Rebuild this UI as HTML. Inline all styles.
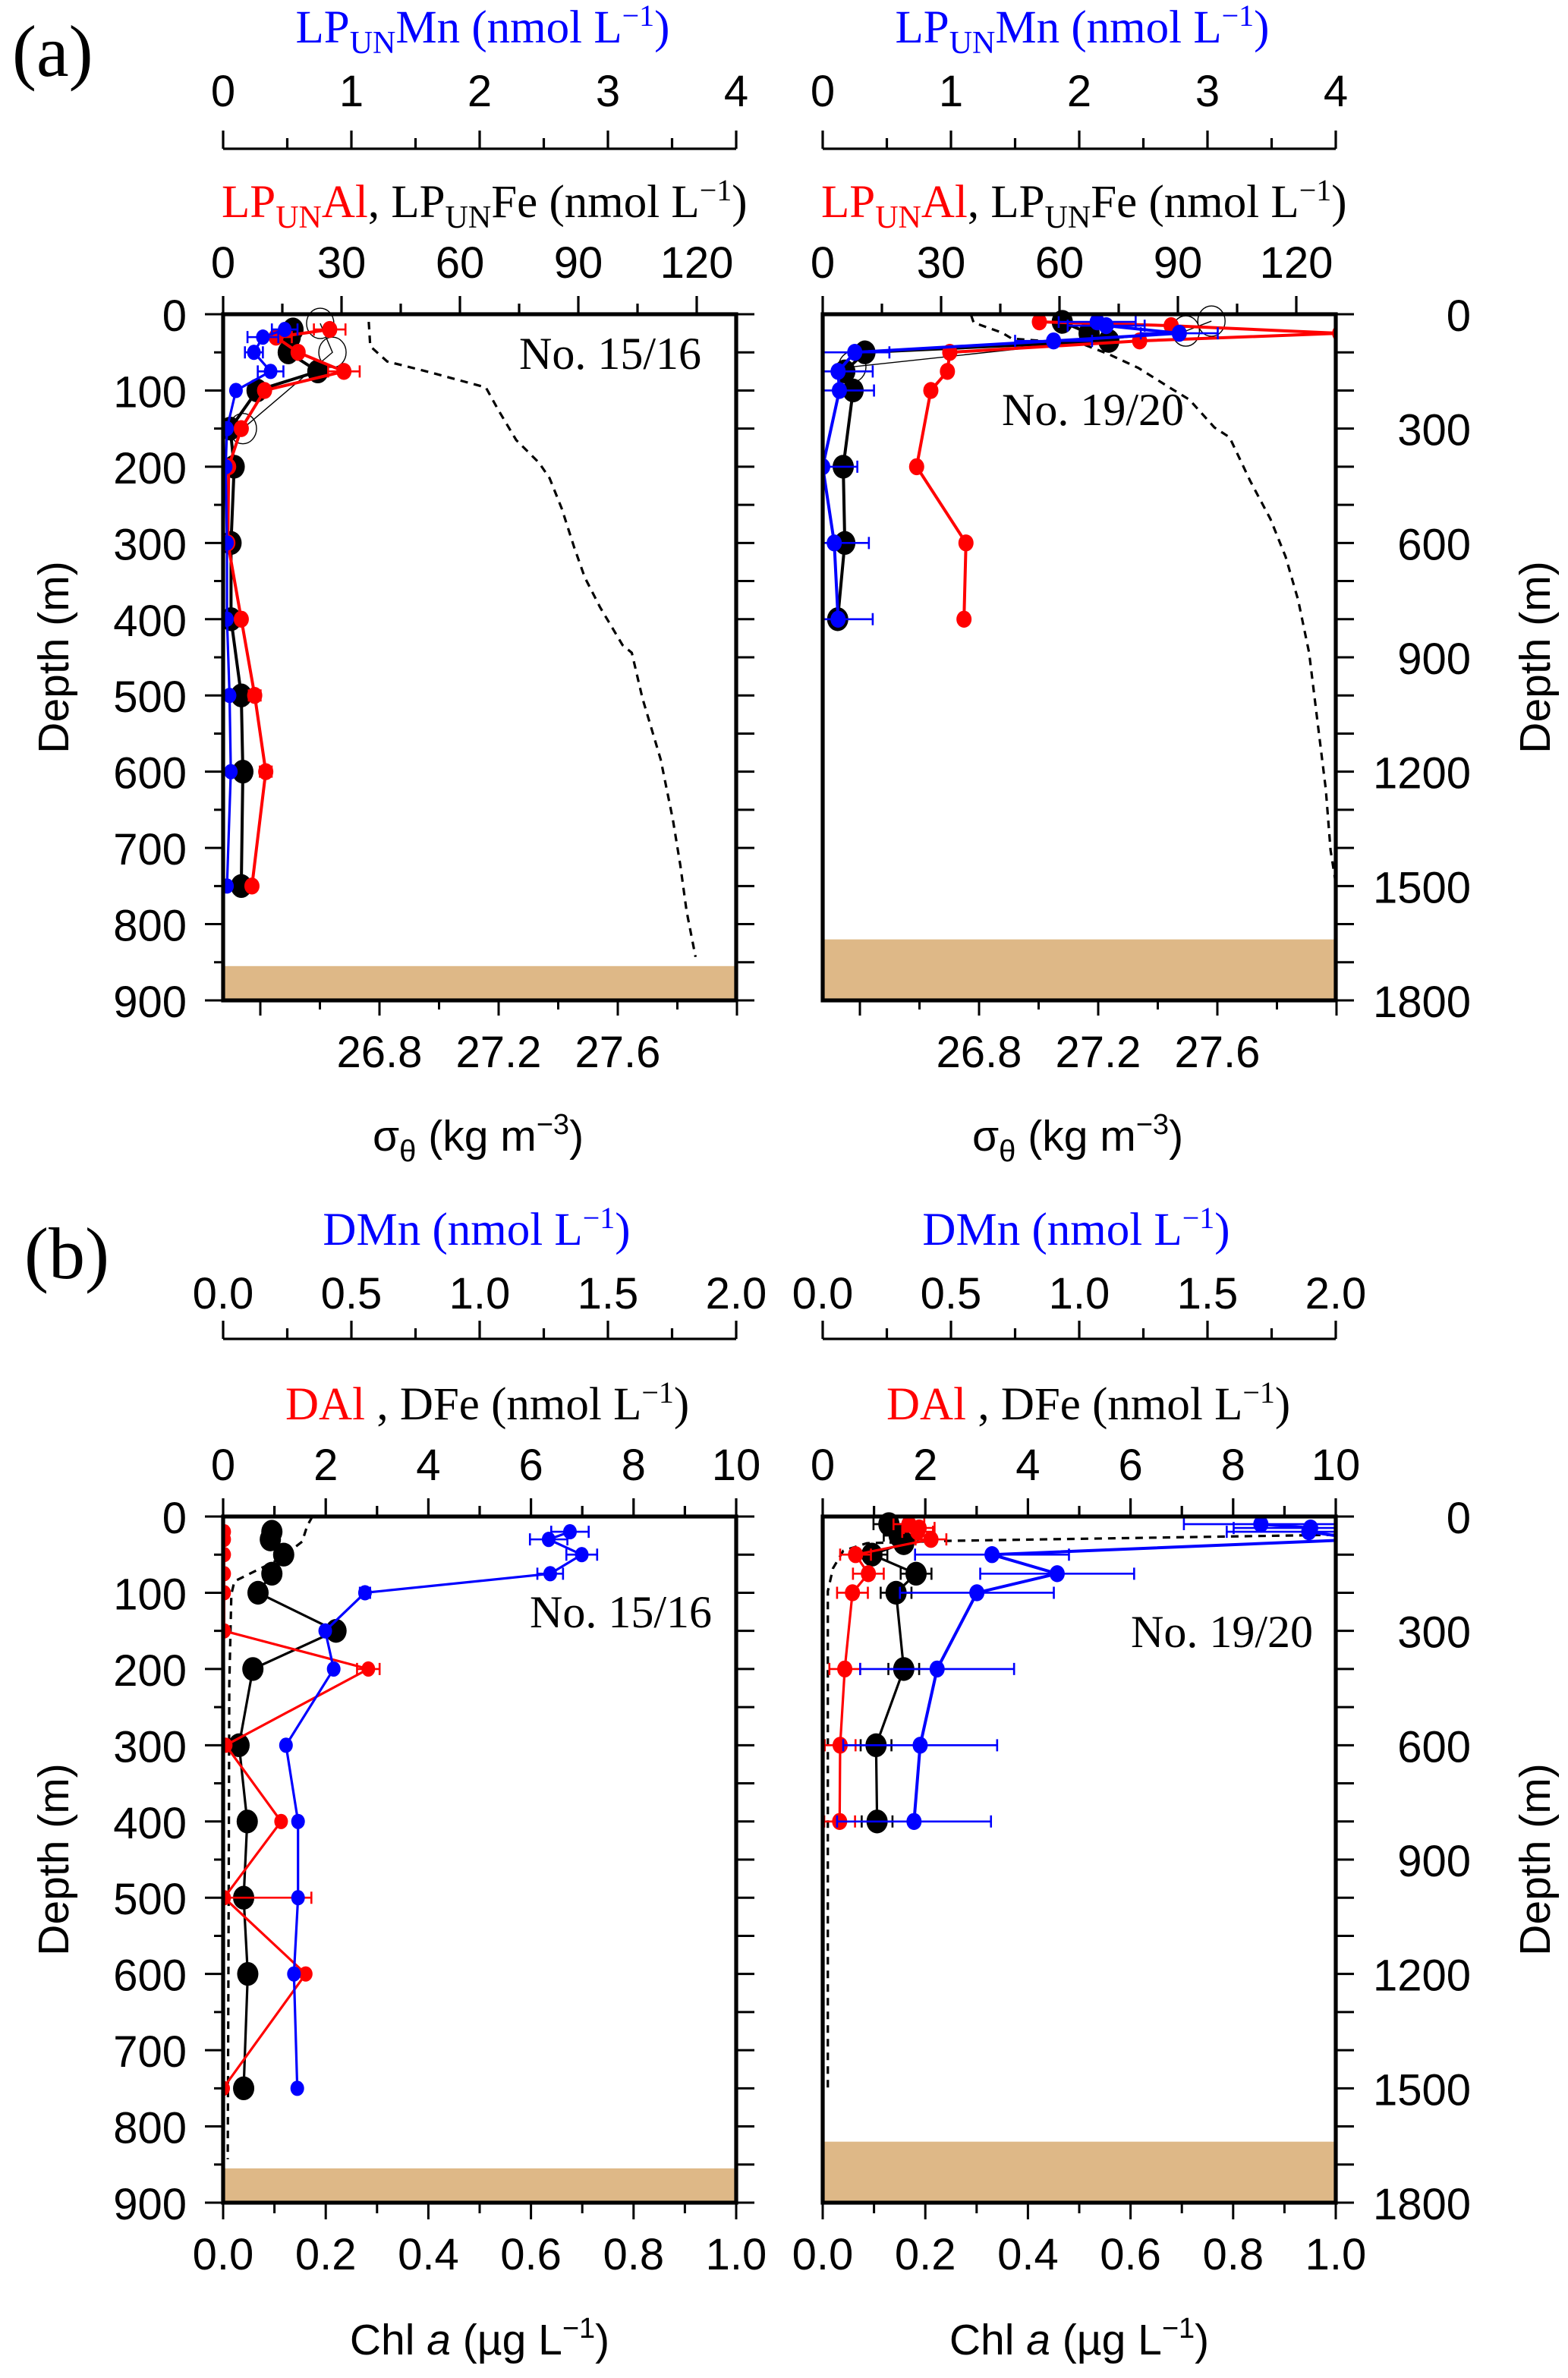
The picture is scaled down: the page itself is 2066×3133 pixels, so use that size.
<!DOCTYPE html>
<html><head><meta charset="utf-8"><style>
html,body{margin:0;padding:0;background:#fff;}
svg{display:block;}
.tk{font-family:"Liberation Sans",sans-serif;font-size:29px;}
.sf{font-family:"Liberation Serif",serif;font-size:30.5px;}
.ss{font-family:"Liberation Sans",sans-serif;font-size:28.5px;}
.st{font-family:"Liberation Serif",serif;font-size:30px;}
</style></head><body>
<svg id="chart" xmlns="http://www.w3.org/2000/svg" width="2066" height="3133" viewBox="0 0 1033 1566.5">
<rect x="0" y="0" width="1033" height="1566.5" fill="#fff"/>
<text x="8" y="50" style="font-family:'Liberation Serif',serif;font-size:48px">(a)</text>
<text x="16" y="842" style="font-family:'Liberation Serif',serif;font-size:48px">(b)</text>

<text class="sf" x="318" y="28" text-anchor="middle" fill="#0000ff">LP<tspan font-size="21" dy="7">UN</tspan><tspan dy="-7">Mn (nmol L</tspan><tspan font-size="20" dy="-11">−1</tspan><tspan dy="11">)</tspan></text>
<text class="sf" x="713" y="28" text-anchor="middle" fill="#0000ff">LP<tspan font-size="21" dy="7">UN</tspan><tspan dy="-7">Mn (nmol L</tspan><tspan font-size="20" dy="-11">−1</tspan><tspan dy="11">)</tspan></text>
<text class="sf" x="146" y="143"><tspan fill="#ff0000">LP</tspan><tspan fill="#ff0000" font-size="21" dy="7">UN</tspan><tspan fill="#ff0000" dy="-7">Al</tspan>, LP<tspan font-size="21" dy="7">UN</tspan><tspan dy="-7">Fe (nmol L</tspan><tspan font-size="20" dy="-11">−1</tspan><tspan dy="11">)</tspan></text>
<text class="sf" x="541" y="143"><tspan fill="#ff0000">LP</tspan><tspan fill="#ff0000" font-size="21" dy="7">UN</tspan><tspan fill="#ff0000" dy="-7">Al</tspan>, LP<tspan font-size="21" dy="7">UN</tspan><tspan dy="-7">Fe (nmol L</tspan><tspan font-size="20" dy="-11">−1</tspan><tspan dy="11">)</tspan></text>
<text class="ss" x="315" y="758" text-anchor="middle">σ<tspan font-size="20" dy="7">θ</tspan><tspan dy="-7"> (kg m</tspan><tspan font-size="19" dy="-11">−3</tspan><tspan dy="11">)</tspan></text>
<text class="ss" x="710" y="758" text-anchor="middle">σ<tspan font-size="20" dy="7">θ</tspan><tspan dy="-7"> (kg m</tspan><tspan font-size="19" dy="-11">−3</tspan><tspan dy="11">)</tspan></text>

<text class="sf" x="314" y="820" text-anchor="middle" fill="#0000ff">DMn (nmol L<tspan font-size="20" dy="-11">−1</tspan><tspan dy="11">)</tspan></text>
<text class="sf" x="709" y="820" text-anchor="middle" fill="#0000ff">DMn (nmol L<tspan font-size="20" dy="-11">−1</tspan><tspan dy="11">)</tspan></text>
<text class="sf" x="188" y="935"><tspan fill="#ff0000">DAl</tspan> , DFe (nmol L<tspan font-size="20" dy="-11">−1</tspan><tspan dy="11">)</tspan></text>
<text class="sf" x="584" y="935"><tspan fill="#ff0000">DAl</tspan> , DFe (nmol L<tspan font-size="20" dy="-11">−1</tspan><tspan dy="11">)</tspan></text>
<text class="ss" x="316" y="1551" text-anchor="middle">Chl <tspan font-style="italic">a</tspan> (µg L<tspan font-size="19" dy="-11">−1</tspan><tspan dy="11">)</tspan></text>
<text class="ss" x="711" y="1551" text-anchor="middle">Chl <tspan font-style="italic">a</tspan> (µg L<tspan font-size="19" dy="-11">−1</tspan><tspan dy="11">)</tspan></text>

<text class="ss" transform="translate(45,433) rotate(-90)" text-anchor="middle">Depth (m)</text>
<text class="ss" transform="translate(1021,433) rotate(-90)" text-anchor="middle">Depth (m)</text>
<text class="ss" transform="translate(45,1225) rotate(-90)" text-anchor="middle">Depth (m)</text>
<text class="ss" transform="translate(1021,1225) rotate(-90)" text-anchor="middle">Depth (m)</text>

<text class="st" x="462" y="243" text-anchor="end">No. 15/16</text>
<text class="st" x="780" y="280" text-anchor="end">No. 19/20</text>
<text class="st" x="469" y="1072" text-anchor="end">No. 15/16</text>
<text class="st" x="865" y="1085" text-anchor="end">No. 19/20</text>
<g id="plots"></g>
</svg>
<script>
// ---------- Panel (a) left : station 15/16 ----------
const aL_depth = [20,30,50,75,100,150,200,300,400,500,600,750];
const aL_fe = [17.7,17,16.5,24,8.6,1.8,2.8,2,2,4.6,5,4.6];
const aL_al = [27,13.4,19,30.6,10.5,4.6,1.4,1.2,4.6,8,10.8,7.3];
const aL_al_err = [4,4,0,4,0,0,0,0,0,1.5,1.5,0];
const aL_mn = [0.48,0.31,0.24,0.37,0.1,0.03,0.02,0.03,0.03,0.05,0.06,0.03];
const aL_mn_err = [0.1,0.12,0.07,0.1,0,0,0,0,0,0,0,0];
const aL_open_depth = [12,50,150];
const aL_open = [24.6,27.7,5];
const aL_sig_depth = [10,42,62,76,96,125,165,195,215,255,305,345,384,434,444,504,584,663,723,783,843];
const aL_sig = [26.764,26.769,26.826,26.968,27.157,27.198,27.259,27.336,27.371,27.412,27.453,27.489,27.54,27.616,27.647,27.683,27.744,27.785,27.81,27.831,27.861];
// ---------- Panel (a) right : station 19/20 ----------
const aR_fe_depth = [10,25,35,50,75,100,200,300,400];
const aR_fe = [60.7,67.5,72.5,10.7,5.6,7.7,5.2,5.6,3.8];
const aR_al_depth = [10,15,25,35,50,75,100,200,300,400];
const aR_al = [54.9,88.3,131,80.3,32.2,31.6,27.4,23.8,36.3,35.8];
const aR_mn = [2.14,2.21,2.78,1.8,0.25,0.12,0.13,0.0,0.09,0.12];
const aR_mn_err = [0.3,0.3,0.3,0.3,0.27,0.27,0.27,0.27,0.27,0.27];
const aR_open_depth = [9,22,69];
const aR_open = [98.5,92,7.5];
const aR_sig_depth = [2,22,48,64,78,104,141,191,224,297,323,437,537,636,749,888,1087,1246,1406,1505];
const aR_sig = [26.773,26.782,26.876,26.91,27.147,27.233,27.335,27.437,27.506,27.59,27.641,27.71,27.778,27.829,27.871,27.908,27.939,27.964,27.98,28.0];
// ---------- Panel (b) left ----------
const bL_depth = [20,30,50,75,100,150,200,300,400,500,600,750];
const bL_fe = [0.95,0.92,1.18,0.95,0.68,2.2,0.58,0.31,0.47,0.4,0.48,0.4];
const bL_al = [0.02,0.02,0.02,0.02,0.02,0.02,2.83,0.05,1.13,0.02,1.61,0.0];
const bL_al_err = [0,0,0,0,0,0,0.22,0,0,1.7,0,0];
const bL_mn = [1.352,1.269,1.398,1.275,0.553,0.398,0.431,0.245,0.292,0.292,0.276,0.289];
const bL_mn_err = [0.073,0.073,0.06,0.05,0.02,0,0,0,0,0,0,0];
const bL_chl_depth = [0,12,33,45,60,75,85,102,221,460,843];
const bL_chl = [0.174,0.164,0.154,0.131,0.098,0.052,0.022,0.016,0.012,0.011,0.009];
// ---------- Panel (b) right ----------
const bR_fe_depth = [10,25,35,50,75,100,200,300,400];
const bR_fe = [1.29,1.49,1.58,0.96,1.82,1.43,1.58,1.04,1.06];
const bR_fe_err = [0.3,0.3,0,0.3,0.3,0.3,0.3,0.3,0.3];
const bR_al_depth = [10,15,20,30,50,75,100,200,300,400];
const bR_al = [1.68,1.88,1.85,2.11,0.64,0.89,0.58,0.43,0.34,0.33];
const bR_al_err = [0.3,0.3,0.3,0.3,0.3,0.3,0.3,0.3,0.3,0.3];
const bR_mn = [1.708,1.902,1.895,2.1,0.66,0.914,0.601,0.446,0.38,0.356];
const bR_mn_err = [0.3,0.3,0.32,0,0.3,0.3,0.3,0.3,0.3,0.3];
const bR_chl_depth = [22,24,32,35,45,68,98,427,755];
const bR_chl = [1.05,1.0,0.238,0.086,0.04,0.02,0.01,0.01,0.01];
// ---------- tick labels ----------
const tickFeAl_a = [0,30,60,90,120];
const tickMn_a = [0,1,2,3,4];
const tickSig = ["26.8","27.2","27.6"];
const tickFeAl_b = [0,2,4,6,8,10];
const tickMn_b = ["0.0","0.5","1.0","1.5","2.0"];
const tickChl = ["0.0","0.2","0.4","0.6","0.8","1.0"];
const tickDepthL = [0,100,200,300,400,500,600,700,800,900];
const tickDepthR = [0,300,600,900,1200,1500,1800];

const NS = "http://www.w3.org/2000/svg";
const root = document.getElementById("plots");
function mk(tag, attrs, parent){
  const e = document.createElementNS(NS, tag);
  for (const k in attrs) e.setAttribute(k, attrs[k]);
  (parent||root).appendChild(e);
  return e;
}
const W = 338, H = 452;
const BLUE = "#0000ff", RED = "#ff0000";

function makePanel(x0, y0, id){
  const P = {x0, y0};
  P.sx = (v, max) => x0 + v / max * W;
  P.sy = (d, maxd) => y0 + d / maxd * H;
  const cp = mk("clipPath", {id: "clip" + id});
  mk("rect", {x: x0, y: y0 - 14, width: W, height: H + 14}, cp);
  P.g = mk("g", {"clip-path": "url(#clip" + id + ")"});
  return P;
}
function series(P, vals, depths, fx, fy, name, color, sw, r, errs){
  const pts = vals.map((v, i) => fx(v) + "," + fy(depths[i])).join(" ");
  const pl = mk("polyline", {points: pts, fill: "none", stroke: color, "stroke-width": sw}, P.g);
  
  
  vals.forEach((v, i) => {
    const cy = fy(depths[i]);
    if (errs && errs[i] > 0){
      const xa = fx(v - errs[i]), xb = fx(v + errs[i]);
      const eb = mk("path", {d: `M${xa},${cy}H${xb}M${xa},${cy-4}V${cy+4}M${xb},${cy-4}V${cy+4}`, stroke: color, "stroke-width": 1.3, fill: "none"}, P.g);
      
      
    }
    const c = mk("ellipse", {cx: fx(v), cy: cy, rx: r, ry: r * 1.12, fill: color}, P.g);
    
    
  });
}
function openCircles(P, vals, depths, fx, fy, name){
  const pts = vals.map((v, i) => fx(v) + "," + fy(depths[i])).join(" ");
  const pl = mk("polyline", {points: pts, fill: "none", stroke: "#000", "stroke-width": 0.7}, P.g);
  
  
  vals.forEach((v, i) => {
    const c = mk("ellipse", {cx: fx(v), cy: fy(depths[i]), rx: 9, ry: 10, fill: "none", stroke: "#000", "stroke-width": 0.7}, P.g);
    
    
  });
}
function dashed(P, vals, depths, fx, fy, name){
  const pts = vals.map((v, i) => fx(v) + "," + fy(depths[i])).join(" ");
  const pl = mk("polyline", {points: pts, fill: "none", stroke: "#000", "stroke-width": 1.6, "stroke-dasharray": "5,4"}, P.g);
  
  
}
function tickText(x, y, txt, anchor, name, color){
  const t = mk("text", {x: x, y: y, "text-anchor": anchor || "middle", class: "tk", fill: color || "#000"});
  t.textContent = txt;
  
  
}
function frame(P, sandDepthFrac, name){
  const s = mk("rect", {x: P.x0, y: P.y0 + sandDepthFrac * H, width: W, height: H - sandDepthFrac * H, fill: "#deb887"});
  
  
  const b = mk("rect", {x: P.x0, y: P.y0, width: W, height: H, fill: "none", stroke: "#000", "stroke-width": 2.6});
  
  
}
function topAxis(P, y, max, labels, minorStep, ly, name, color){
  let d = "";
  for (let v = 0; v <= max + 1e-9; v += minorStep){
    const isMajor = labels.some(l => Math.abs(parseFloat(l) - v) < 1e-6);
    const x = P.sx(v, max);
    d += `M${x},${y}V${y - (isMajor ? 12 : 7)}`;
  }
  const ax = mk("path", {d: `M${P.x0},${y}H${P.x0 + W}` + d, stroke: "#000", "stroke-width": 1.6, fill: "none"});
  
  
  labels.forEach(l => tickText(P.sx(parseFloat(l), max), ly, String(l), "middle", name + '-tick-label', color));
}
function depthAxes(P, leftLabels, rightLabels, name){
  let d = "";
  for (let k = 0; k <= 18; k++){
    const y = P.y0 + k * H / 18;
    if (leftLabels) d += `M${P.x0},${y}H${P.x0 - (k % 2 === 0 ? 12 : 6)}`;
    d += `M${P.x0 + W},${y}H${P.x0 + W + 12}`;
  }
  const ax = mk("path", {d: d, stroke: "#000", "stroke-width": 1.5, fill: "none"});
  
  
  if (leftLabels) leftLabels.forEach(v => tickText(P.x0 - 24, P.y0 + v / 900 * H + 11, String(v), "end", name + '-depth-label'));
  if (rightLabels) rightLabels.forEach(v => tickText(969, P.y0 + v / 1800 * H + 11, String(v), "end", name + '-depth-label-right'));
}

// ===== Panel (a) =====
[["aL", 147, aL_sig_depth, aL_sig, 900, 855], ["aR", 542, aR_sig_depth, aR_sig, 1800, 1640]].forEach(cfg => {
  const [id, x0, sd, sv, sMax, sand] = cfg;
  const P = makePanel(x0, 207, id);
  const fFe = v => P.sx(v, 130), fMn = v => P.sx(v, 4), fD = d => P.sy(d, 900);
  const fSig = s => x0 + 103 + (s - 26.8) * 196.25, fSD = d => P.sy(d, sMax);
  frame(P, sand / sMax, id);
  dashed(P, sv, sd, fSig, fSD, id + '-sigma-theta-profile');
  if (id === "aL"){
    openCircles(P, aL_open, aL_open_depth, fFe, fD, 'aL-open-fe');
    series(P, aL_fe, aL_depth, fFe, fD, 'aL-lpun-fe', "#000", 2, 7, null);
    series(P, aL_al, aL_depth, fFe, fD, 'aL-lpun-al', RED, 2, 5, aL_al_err);
    series(P, aL_mn, aL_depth, fMn, fD, 'aL-lpun-mn', BLUE, 1.6, 4.5, aL_mn_err);
  } else {
    openCircles(P, aR_open, aR_open_depth, fFe, fD, 'aR-open-fe');
    series(P, aR_fe, aR_fe_depth, fFe, fD, 'aR-lpun-fe', "#000", 2, 7, null);
    series(P, aR_al, aR_al_depth, fFe, fD, 'aR-lpun-al', RED, 2, 5, null);
    series(P, aR_mn, aR_al_depth, fMn, fD, 'aR-lpun-mn', BLUE, 2, 5, aR_mn_err);
  }
  topAxis(P, 207, 130, tickFeAl_a, 15, 183, id + '-fe-al', "#000");
  topAxis(P, 98, 4, tickMn_a, 0.5, 70, id + '-mn', "#000");
  let d = "";
  for (let s = 26.4; s <= 28.0 + 1e-9; s += 0.2){
    const x = fSig(s);
    if (x < x0 - 0.5 || x > x0 + W + 0.5) continue;
    d += `M${x},${207 + H}V${207 + H + (Math.round(s * 10) % 4 === 0 ? 10 : 6)}`;
  }
  const bt = mk("path", {d: d, stroke: "#000", "stroke-width": 1.5});
  
  
  tickSig.forEach(l => tickText(fSig(parseFloat(l)), 703, l, "middle", id + '-sigma-tick-label'));
  depthAxes(P, id === "aL" ? tickDepthL : null, id === "aR" ? tickDepthR : null, id);
});

// ===== Panel (b) =====
["bL", "bR"].forEach(id => {
  const x0 = id === "bL" ? 147 : 542;
  const P = makePanel(x0, 999, id);
  const fFe = v => P.sx(v, 10), fMn = v => P.sx(v, 2), fC = v => P.sx(v, 1), fD = d => P.sy(d, 900);
  frame(P, id === "bL" ? 855 / 900 : 820 / 900, id);
  if (id === "bL"){
    dashed(P, bL_chl, bL_chl_depth, fC, fD, 'bL-chl-a-profile');
    series(P, bL_fe, bL_depth, fFe, fD, 'bL-dfe', "#000", 1.6, 7, null);
    series(P, bL_al, bL_depth, fFe, fD, 'bL-dal', RED, 1.6, 4.5, bL_al_err);
    series(P, bL_mn, bL_depth, fMn, fD, 'bL-dmn', BLUE, 1.6, 4.5, bL_mn_err);
  } else {
    dashed(P, bR_chl, bR_chl_depth, fC, fD, 'bR-chl-a-profile');
    series(P, bR_fe, bR_fe_depth, fFe, fD, 'bR-dfe', "#000", 1.6, 7, bR_fe_err);
    series(P, bR_al, bR_al_depth, fFe, fD, 'bR-dal', RED, 1.6, 5, bR_al_err);
    series(P, bR_mn, bR_al_depth, fMn, fD, 'bR-dmn', BLUE, 2, 5, bR_mn_err);
  }
  topAxis(P, 999, 10, tickFeAl_b, 1, 975, id + '-dfe-dal', "#000");
  topAxis(P, 882, 2, tickMn_b, 0.25, 862, id + '-dmn', "#000");
  let d = "";
  for (let k = 0; k <= 10; k++){
    const x = fC(k / 10);
    d += `M${x},${999 + H}V${999 + H + (k % 2 === 0 ? 11 : 7)}`;
  }
  const bt = mk("path", {d: d, stroke: "#000", "stroke-width": 1.5});
  
  
  tickChl.forEach(l => tickText(fC(parseFloat(l)), 1495, l, "middle", id + '-chl-tick-label'));
  depthAxes(P, id === "bL" ? tickDepthL : null, id === "bR" ? tickDepthR : null, id);
});
</script>
</body></html>
